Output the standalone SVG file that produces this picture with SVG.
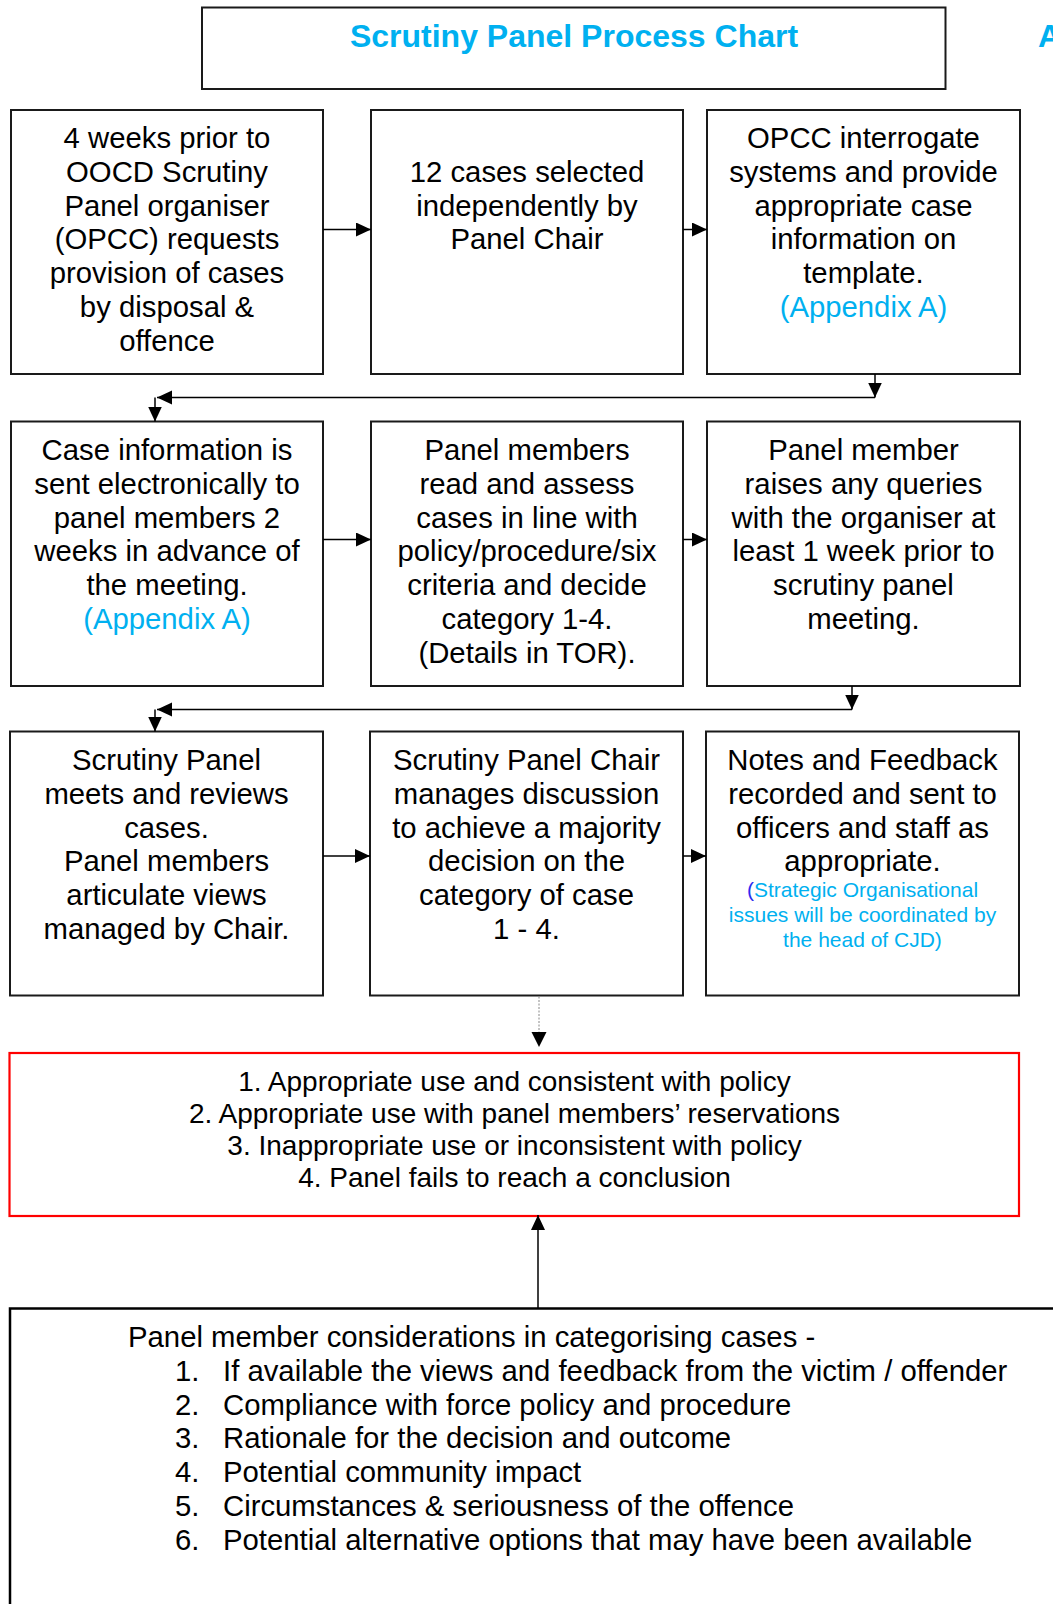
<svg xmlns="http://www.w3.org/2000/svg" width="1053" height="1604" viewBox="0 0 1053 1604">
<defs>
<marker id="ah" markerUnits="userSpaceOnUse" markerWidth="16" markerHeight="15" refX="15" refY="7" orient="auto">
<path d="M0,0 L15,7 L0,14 z" fill="#000"/>
</marker>
</defs>
<style>
.box{fill:#fff;stroke:#1a1a1a;stroke-width:2}
.t{font-family:"Liberation Sans",Arial,sans-serif;font-size:29.3px;fill:#000;text-anchor:middle}
.cy{fill:#00B0F0}
.sm{font-size:21px}
.c{stroke:#000;stroke-width:1.5;fill:none;marker-end:url(#ah)}
.title{font-family:"Liberation Sans",Arial,sans-serif;font-weight:bold;font-size:32px;fill:#00B0F0}
</style>
<rect width="1053" height="1604" fill="#fff"/>

<g id="title">
<rect x="202" y="7.5" width="743.5" height="81.5" fill="#fff" stroke="#1a1a1a" stroke-width="2"/>
<text class="title" x="574" y="47" text-anchor="middle">Scrutiny Panel Process Chart</text>
</g>
<g id="edge-label">
<text class="title" x="1038" y="47">A</text>
</g>

<g id="n1">
<rect class="box" x="11" y="110" width="312" height="264"/>
<text class="t"><tspan x="167" y="148">4 weeks prior to</tspan><tspan x="167" y="181.8">OOCD Scrutiny</tspan><tspan x="167" y="215.6">Panel organiser</tspan><tspan x="167" y="249.4">(OPCC) requests</tspan><tspan x="167" y="283.2">provision of cases</tspan><tspan x="167" y="317">by disposal &amp;</tspan><tspan x="167" y="350.8">offence</tspan></text>
</g>
<g id="n2">
<rect class="box" x="371" y="110" width="312" height="264"/>
<text class="t"><tspan x="527" y="181.8">12 cases selected</tspan><tspan x="527" y="215.6">independently by</tspan><tspan x="527" y="249.4">Panel Chair</tspan></text>
</g>
<g id="n3">
<rect class="box" x="707" y="110" width="313" height="264"/>
<text class="t"><tspan x="863.5" y="148">OPCC interrogate</tspan><tspan x="863.5" y="181.8">systems and provide</tspan><tspan x="863.5" y="215.6">appropriate case</tspan><tspan x="863.5" y="249.4">information on</tspan><tspan x="863.5" y="283.2">template.</tspan><tspan class="cy" x="863.5" y="317">(Appendix A)</tspan></text>
</g>

<g id="n4">
<rect class="box" x="11" y="421.5" width="312" height="264.5"/>
<text class="t"><tspan x="167" y="460">Case information is</tspan><tspan x="167" y="493.8">sent electronically to</tspan><tspan x="167" y="527.6">panel members 2</tspan><tspan x="167" y="561.4">weeks in advance of</tspan><tspan x="167" y="595.2">the meeting.</tspan><tspan class="cy" x="167" y="629">(Appendix A)</tspan></text>
</g>
<g id="n5">
<rect class="box" x="371" y="421.5" width="312" height="264.5"/>
<text class="t"><tspan x="527" y="460">Panel members</tspan><tspan x="527" y="493.8">read and assess</tspan><tspan x="527" y="527.6">cases in line with</tspan><tspan x="527" y="561.4">policy/procedure/six</tspan><tspan x="527" y="595.2">criteria and decide</tspan><tspan x="527" y="629">category 1-4.</tspan><tspan x="527" y="662.8">(Details in TOR).</tspan></text>
</g>
<g id="n6">
<rect class="box" x="707" y="421.5" width="313" height="264.5"/>
<text class="t"><tspan x="863.5" y="460">Panel member</tspan><tspan x="863.5" y="493.8">raises any queries</tspan><tspan x="863.5" y="527.6">with the organiser at</tspan><tspan x="863.5" y="561.4">least 1 week prior to</tspan><tspan x="863.5" y="595.2">scrutiny panel</tspan><tspan x="863.5" y="629">meeting.</tspan></text>
</g>

<g id="n7">
<rect class="box" x="10" y="731.5" width="313" height="264"/>
<text class="t"><tspan x="166.5" y="770">Scrutiny Panel</tspan><tspan x="166.5" y="803.8">meets and reviews</tspan><tspan x="166.5" y="837.6">cases.</tspan><tspan x="166.5" y="871.4">Panel members</tspan><tspan x="166.5" y="905.2">articulate views</tspan><tspan x="166.5" y="939">managed by Chair.</tspan></text>
</g>
<g id="n8">
<rect class="box" x="370" y="731.5" width="313" height="264"/>
<text class="t"><tspan x="526.5" y="770">Scrutiny Panel Chair</tspan><tspan x="526.5" y="803.8">manages discussion</tspan><tspan x="526.5" y="837.6">to achieve a majority</tspan><tspan x="526.5" y="871.4">decision on the</tspan><tspan x="526.5" y="905.2">category of case</tspan><tspan x="526.5" y="939">1 - 4.</tspan></text>
</g>
<g id="n9">
<rect class="box" x="706" y="731.5" width="313" height="264"/>
<text class="t"><tspan x="862.5" y="770">Notes and Feedback</tspan><tspan x="862.5" y="803.8">recorded and sent to</tspan><tspan x="862.5" y="837.6">officers and staff as</tspan><tspan x="862.5" y="871.4">appropriate.</tspan></text>
<text class="t sm"><tspan x="862.5" y="897"><tspan fill="#2b2bf0">(</tspan><tspan class="cy">Strategic Organisational</tspan></tspan><tspan class="cy" x="862.5" y="922">issues will be coordinated by</tspan><tspan class="cy" x="862.5" y="947">the head of CJD)</tspan></text>
</g>

<g id="n10">
<rect x="9.5" y="1053" width="1009.5" height="163" fill="#fff" stroke="#ff0000" stroke-width="2.2"/>
<text class="t" style="font-size:28px"><tspan x="514.5" y="1090.5">1. Appropriate use and consistent with policy</tspan><tspan x="514.5" y="1122.5">2. Appropriate use with panel members’ reservations</tspan><tspan x="514.5" y="1154.5">3. Inappropriate use or inconsistent with policy</tspan><tspan x="514.5" y="1186.5">4. Panel fails to reach a conclusion</tspan></text>
</g>

<g id="n11">
<rect x="10" y="1308.5" width="1070" height="320" fill="#fff" stroke="#000" stroke-width="2.5"/>
<text class="t" style="text-anchor:start"><tspan x="128" y="1347">Panel member considerations in categorising cases -</tspan></text>
<text class="t" style="text-anchor:start"><tspan x="175" y="1380.8">1.</tspan><tspan x="175" y="1414.6">2.</tspan><tspan x="175" y="1448.4">3.</tspan><tspan x="175" y="1482.2">4.</tspan><tspan x="175" y="1516">5.</tspan><tspan x="175" y="1549.8">6.</tspan></text>
<text class="t" style="text-anchor:start"><tspan x="223" y="1380.8">If available the views and feedback from the victim / offender</tspan><tspan x="223" y="1414.6">Compliance with force policy and procedure</tspan><tspan x="223" y="1448.4">Rationale for the decision and outcome</tspan><tspan x="223" y="1482.2">Potential community impact</tspan><tspan x="223" y="1516">Circumstances &amp; seriousness of the offence</tspan><tspan x="223" y="1549.8">Potential alternative options that may have been available</tspan></text>
</g>

<g id="connectors">
<line class="c" x1="323" y1="229.5" x2="371" y2="229.5"/>
<line class="c" x1="683" y1="229.5" x2="707" y2="229.5"/>
<line class="c" x1="875" y1="374" x2="875" y2="397.5"/>
<line class="c" x1="875" y1="397.5" x2="157" y2="397.5"/>
<line class="c" x1="155" y1="397.5" x2="155" y2="421.5"/>
<line class="c" x1="323" y1="539.5" x2="371" y2="539.5"/>
<line class="c" x1="683" y1="539.5" x2="707" y2="539.5"/>
<line class="c" x1="852" y1="686" x2="852" y2="709.5"/>
<line class="c" x1="852" y1="709.5" x2="157" y2="709.5"/>
<line class="c" x1="155" y1="709.5" x2="155" y2="731.5"/>
<line class="c" x1="323" y1="856" x2="370" y2="856"/>
<line class="c" x1="683" y1="856" x2="706" y2="856"/>
<line x1="539" y1="996.5" x2="539" y2="1033" stroke="#888" stroke-width="1" stroke-dasharray="2,1.5"/>
<path d="M531.5,1032 L546.5,1032 L539,1047 z" fill="#000"/>
<line class="c" x1="538" y1="1308" x2="538" y2="1215"/>
</g>
</svg>
